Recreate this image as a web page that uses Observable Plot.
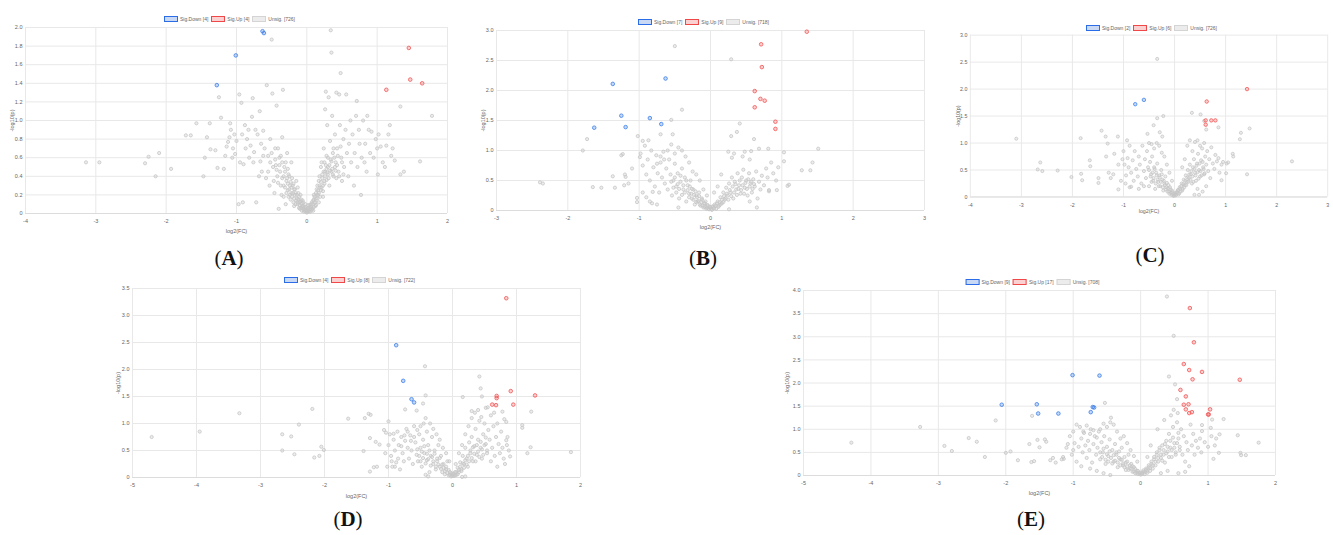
<!DOCTYPE html>
<html><head><meta charset="utf-8">
<script src="https://cdn.jsdelivr.net/npm/d3@7"></script>
<script src="https://cdn.jsdelivr.net/npm/@observablehq/plot@0.6"></script>
<style>
body{margin:0;background:#fff;}
#root{position:relative;width:1333px;height:535px;overflow:hidden;font-family:"Liberation Sans Narrow","Liberation Sans",Arial,sans-serif;}
.panel{position:absolute;}
.legend{position:absolute;transform:translate(-50%,-50%);display:flex;align-items:center;font-size:5px;color:#666;white-space:nowrap;line-height:6px;}
.sw{display:inline-block;box-sizing:border-box;width:14px;height:6px;border:1.3px solid;margin:0 2px 0 3px;}
.tag{position:absolute;transform:translateX(-50%);font-family:"Liberation Serif","DejaVu Serif",serif;font-size:21px;line-height:21px;color:#111;white-space:nowrap;}
.tag b{font-weight:bold}
</style></head><body><div id="root"></div>
<script>
// ---------- DATA ----------
const legendLabels = ["Sig.Down", "Sig.Up", "Unsig."];
const countsA = [4, 4, 726], countsB = [7, 9, 718], countsC = [2, 6, 726], countsD = [4, 8, 722], countsE = [9, 17, 708];

const xTicksA = [-4,-3,-2,-1,0,1,2];
const yTicksA = [0,0.2,0.4,0.6,0.8,1.0,1.2,1.4,1.6,1.8,2.0];
const xTicksB = [-3,-2,-1,0,1,2,3];
const yTicksB = [0,0.5,1.0,1.5,2.0,2.5,3.0];
const xTicksC = [-4,-3,-2,-1,0,1,2,3];
const yTicksC = [0,0.5,1.0,1.5,2.0,2.5,3.0];
const xTicksD = [-5,-4,-3,-2,-1,0,1,2];
const yTicksD = [0,0.5,1.0,1.5,2.0,2.5,3.0,3.5];
const xTicksE = [-5,-4,-3,-2,-1,0,1,2];
const yTicksE = [0,0.5,1.0,1.5,2.0,2.5,3.0,3.5,4.0];

const downA = [[-0.63,1.96],[-0.61,1.94],[-1.01,1.70],[-1.28,1.38]];
const upA = [[1.45,1.78],[1.47,1.44],[1.64,1.40],[1.13,1.33]];
const grayA = [[-3.14,0.55],[-2.95,0.55],[-2.30,0.54],[-2.25,0.61],[-2.10,0.65],[-2.15,0.40],[-1.93,0.48],[-1.72,0.84],[-1.65,0.84],[-1.57,0.97],[-1.47,0.40],[-1.45,0.60],[-1.42,0.82],[-1.38,0.97],[-1.37,0.69],[-1.30,0.68],[-1.27,0.49],[-1.25,1.25],[-1.22,1.03],[-1.18,0.48],[-1.16,0.62],[-1.12,0.77],[-1.09,0.97],[-1.08,0.90],[-1.05,0.70],[-1.02,0.64],[-1.00,0.78],[-0.97,0.10],[-0.96,1.28],[-0.93,1.19],[-0.91,0.12],[-0.90,0.53],[-0.88,0.95],[-0.85,0.80],[-0.83,0.90],[-0.80,0.73],[-0.78,1.04],[-0.77,1.24],[-0.75,0.66],[-0.72,0.12],[-0.70,0.85],[-0.67,1.10],[-0.66,0.56],[-0.64,0.45],[-0.62,0.89],[-0.60,0.70],[-0.58,0.38],[-0.57,1.38],[-0.55,0.62],[-0.53,0.30],[-0.52,0.80],[-0.50,1.87],[-0.49,1.29],[-0.48,0.50],[-0.46,0.22],[-0.45,0.70],[-0.43,1.16],[-0.42,0.40],[-0.40,0.05],[-0.39,0.60],[-0.37,0.30],[-0.35,0.82],[-0.34,1.33],[-0.33,0.18],[-0.32,0.50],[-0.30,0.10],[-0.28,0.65],[-0.27,0.25],[-0.25,0.40],[-0.23,0.15],[-0.22,0.55],[-0.20,0.30],[-0.18,0.08],[-0.17,0.20],[-0.15,0.35],[-0.13,0.12],[-0.12,0.22],[-0.10,0.05],[-0.08,0.15],[-0.07,0.03],[-0.05,0.08],[-0.04,0.02],[-0.02,0.04],[0.00,0.01],[0.02,0.03],[0.03,0.06],[0.05,0.02],[0.06,0.10],[0.08,0.05],[0.10,0.15],[0.12,0.08],[0.13,0.22],[0.15,0.30],[0.17,0.12],[0.18,0.40],[0.20,0.25],[0.21,0.55],[0.23,0.18],[0.24,0.70],[0.25,0.35],[0.26,1.12],[0.27,1.31],[0.28,0.48],[0.29,0.95],[0.30,0.60],[0.31,1.25],[0.32,0.30],[0.33,0.78],[0.34,1.97],[0.35,1.73],[0.35,0.45],[0.36,1.05],[0.37,0.65],[0.38,0.40],[0.40,0.85],[0.41,0.55],[0.42,1.30],[0.43,0.70],[0.45,0.45],[0.46,1.28],[0.47,0.95],[0.48,1.51],[0.49,0.60],[0.50,0.35],[0.52,0.80],[0.53,0.50],[0.55,0.90],[0.56,1.28],[0.57,0.65],[0.59,0.40],[0.60,0.75],[0.62,1.00],[0.63,0.55],[0.65,0.85],[0.67,0.30],[0.68,0.65],[0.70,1.05],[0.71,1.21],[0.72,0.50],[0.74,0.90],[0.75,0.75],[0.77,0.20],[0.78,0.60],[0.80,1.00],[0.82,0.55],[0.83,0.75],[0.85,0.45],[0.86,1.05],[0.88,0.90],[0.90,0.65],[0.92,0.88],[0.95,0.60],[0.98,0.80],[1.00,0.70],[1.01,0.42],[1.02,0.85],[1.05,0.72],[1.08,0.55],[1.11,0.50],[1.13,0.73],[1.16,0.85],[1.18,0.95],[1.20,0.62],[1.22,0.70],[1.25,0.57],[1.33,0.42],[1.33,1.15],[1.38,0.45],[1.61,0.56],[1.78,1.05],
[-0.35,0.55],[-0.33,0.40],[-0.31,0.28],[-0.29,0.35],[-0.27,0.48],[-0.26,0.18],[-0.24,0.30],[-0.22,0.22],[-0.21,0.38],[-0.19,0.12],[-0.18,0.26],[-0.16,0.10],[-0.14,0.16],[-0.13,0.28],[-0.11,0.06],[-0.10,0.12],[-0.09,0.20],[-0.07,0.08],[-0.06,0.14],[-0.05,0.04],[-0.03,0.06],[-0.02,0.10],[-0.01,0.02],[0.01,0.05],[0.02,0.09],[0.04,0.04],[0.05,0.07],[0.07,0.12],[0.09,0.03],[0.10,0.20],[0.11,0.12],[0.13,0.16],[0.14,0.26],[0.16,0.20],[0.17,0.35],[0.19,0.28],[0.20,0.50],[0.22,0.42],[0.23,0.30],[0.25,0.55],[0.26,0.45],[0.28,0.62],[0.30,0.42],[0.32,0.52],[0.34,0.58],[0.36,0.48],[0.38,0.70],[0.40,0.50],[0.42,0.38],[0.44,0.62],[0.46,0.40],[0.48,0.72],[0.50,0.55],[0.52,0.42],[-0.55,0.45],[-0.52,0.55],[-0.50,0.65],[-0.47,0.35],[-0.44,0.52],[-0.41,0.70],[-0.38,0.45],[-0.36,0.20],[-0.62,0.62],[-0.65,0.75],[-0.68,0.40],[-0.73,0.90],[-0.76,0.55],[-0.82,0.60],[-0.87,0.70],[-0.92,0.85],[-0.95,0.55],[-1.03,0.85],[-1.06,0.60],[-1.10,0.82],[-1.14,0.72],
[-0.45,0.58],[-0.43,0.47],[-0.41,0.33],[-0.39,0.52],[-0.37,0.62],[-0.35,0.38],[-0.33,0.30],[-0.31,0.45],[-0.30,0.55],[-0.29,0.22],[-0.28,0.38],[-0.27,0.32],[-0.26,0.42],[-0.25,0.26],[-0.24,0.20],[-0.23,0.34],[-0.22,0.28],[-0.21,0.18],[-0.20,0.22],[-0.19,0.32],[-0.18,0.16],[-0.17,0.26],[-0.16,0.22],[-0.15,0.14],[-0.14,0.20],[-0.13,0.10],[-0.12,0.15],[-0.11,0.18],[-0.10,0.09],[-0.09,0.13],[-0.08,0.06],[-0.07,0.11],[-0.06,0.07],[-0.05,0.12],[-0.04,0.05],[-0.03,0.03],[-0.02,0.07],[-0.01,0.04],[0.00,0.03],[0.01,0.02],[0.02,0.06],[0.03,0.02],[0.04,0.09],[0.05,0.05],[0.06,0.07],[0.07,0.04],[0.08,0.10],[0.09,0.14],[0.10,0.07],[0.11,0.18],[0.12,0.12],[0.13,0.09],[0.14,0.20],[0.15,0.16],[0.16,0.25],[0.17,0.22],[0.18,0.30],[0.19,0.18],[0.20,0.34],[0.21,0.28],[0.22,0.38],[0.23,0.24],[0.24,0.45],[0.25,0.32],[0.26,0.40],[0.27,0.52],[0.28,0.36],[0.29,0.44],[0.30,0.50],[0.31,0.38],[0.33,0.46],[0.35,0.56],[0.37,0.42],[0.39,0.60],[0.41,0.46],[0.43,0.52]];

const downB = [[-1.37,2.11],[-0.63,2.20],[-1.25,1.58],[-0.85,1.54],[-1.19,1.39],[-1.63,1.38],[-0.69,1.44]];
const upB = [[1.35,2.98],[0.71,2.77],[0.72,2.39],[0.62,1.99],[0.70,1.86],[0.76,1.83],[0.62,1.72],[0.91,1.48],[0.91,1.36]];
const grayB = [[-0.50,2.74],[0.29,2.52],[-0.40,1.68],[-0.55,1.51],[-0.53,1.27],[-0.70,1.27],[-1.02,1.24],[-0.95,1.16],[-0.87,1.17],[-1.79,1.00],[-1.73,1.19],[-1.37,0.57],[-2.39,0.47],[-2.35,0.45],[-1.65,0.39],[-1.53,0.38],[-1.34,0.38],[-1.23,0.94],[-1.19,0.56],[-1.21,0.42],[-0.99,0.89],[-1.03,0.21],[-1.03,0.14],[-0.81,0.31],[-0.82,0.12],[0.41,1.45],[0.37,1.31],[0.29,1.24],[0.61,1.19],[0.68,1.03],[0.81,1.03],[1.03,0.97],[1.03,0.82],[1.51,1.03],[1.43,0.80],[1.28,0.67],[1.40,0.67],[1.10,0.43],[1.08,0.41],[0.93,0.34],[0.82,0.34],[0.82,0.32],
[-0.98,0.95],[-0.95,0.75],[-0.92,1.08],[-0.90,0.60],[-0.88,0.85],[-0.85,0.50],[-0.83,1.00],[-0.80,0.72],[-0.78,0.40],[-0.76,0.92],[-0.74,0.62],[-0.72,0.30],[-0.70,0.80],[-0.68,0.55],[-0.66,0.98],[-0.64,0.45],[-0.62,0.70],[-0.60,0.35],[-0.58,0.85],[-0.56,0.60],[-0.54,0.25],[-0.52,0.50],[-0.50,0.78],[-0.48,0.40],[-0.46,0.62],[-0.44,0.20],[-0.42,0.48],[-0.40,0.70],[-0.38,0.35],[-0.36,0.55],[-0.34,0.15],[-0.32,0.42],[-0.30,0.28],[-0.28,0.50],[-0.26,0.20],[-0.24,0.35],[-0.22,0.10],[-0.20,0.25],[-0.18,0.15],[-0.16,0.30],[-0.14,0.08],[-0.12,0.18],[-0.10,0.05],[-0.08,0.12],[-0.06,0.03],[-0.04,0.08],[-0.02,0.02],[0.00,0.05],[0.02,0.01],[0.04,0.06],[0.06,0.10],[0.08,0.03],[0.10,0.15],[0.12,0.08],[0.14,0.22],[0.16,0.12],[0.18,0.30],[0.20,0.18],[0.22,0.38],[0.24,0.25],[0.26,0.45],[0.28,0.30],[0.30,0.55],[0.32,0.20],[0.34,0.48],[0.36,0.35],[0.38,0.62],[0.40,0.42],[0.42,0.28],[0.44,0.55],[0.46,0.68],[0.48,0.38],[0.50,0.50],[0.52,0.25],[0.54,0.62],[0.56,0.45],[0.58,0.30],[0.60,0.52],[0.62,0.40],[0.64,0.65],[0.66,0.20],[0.68,0.48],[0.70,0.35],[0.72,0.58],[0.75,0.42],[0.78,0.70],[0.80,0.55],[0.85,0.80],[0.88,0.62],[0.92,0.50],[0.95,0.72],[0.30,0.88],[0.33,0.95],[0.45,0.90],[0.48,0.98],[0.55,0.85],[0.57,0.99],[0.25,0.98],[0.15,0.60],[0.10,0.40],[0.05,0.30],[-0.05,0.25],[-0.10,0.35],[-0.15,0.50],[-0.20,0.60],[-0.25,0.65],[-0.30,0.80],[-0.35,0.90],[-0.40,1.00],[-0.45,1.05],[-0.50,0.95],[-0.55,1.10],[-0.60,1.00],[-0.65,0.85],[-0.70,0.90],[-0.75,0.78],[-1.10,0.70],[-1.15,0.45],[-1.20,0.60],[-1.25,0.92],[-0.95,0.30],[-0.90,0.22],[-0.85,0.15],[-0.75,0.10],[-0.45,0.05],[0.65,0.05],[0.55,0.15],[0.26,0.02],
[-0.55,0.48],[-0.52,0.38],[-0.50,0.55],[-0.48,0.30],[-0.46,0.44],[-0.44,0.36],[-0.42,0.58],[-0.40,0.26],[-0.38,0.42],[-0.36,0.30],[-0.34,0.50],[-0.32,0.34],[-0.30,0.22],[-0.29,0.40],[-0.27,0.28],[-0.26,0.36],[-0.24,0.18],[-0.23,0.26],[-0.21,0.32],[-0.20,0.14],[-0.19,0.22],[-0.17,0.16],[-0.16,0.24],[-0.15,0.10],[-0.13,0.14],[-0.12,0.20],[-0.11,0.08],[-0.09,0.12],[-0.08,0.06],[-0.07,0.15],[-0.05,0.05],[-0.04,0.09],[-0.03,0.03],[-0.01,0.06],[0.01,0.03],[0.03,0.07],[0.05,0.04],[0.07,0.08],[0.09,0.12],[0.11,0.06],[0.13,0.14],[0.14,0.10],[0.16,0.18],[0.18,0.14],[0.19,0.24],[0.21,0.20],[0.23,0.28],[0.25,0.18],[0.27,0.34],[0.29,0.24],[0.31,0.40],[0.33,0.30],[0.35,0.44],[0.37,0.26],[0.39,0.36],[0.41,0.50],[0.43,0.34],[0.45,0.42],[0.47,0.28],[0.49,0.46],[0.51,0.36],[0.53,0.52],[0.55,0.40],[0.57,0.48],[0.59,0.36],[0.61,0.44]];

const downC = [[-0.77,1.72],[-0.60,1.80]];
const upC = [[1.42,2.00],[0.63,1.77],[0.61,1.42],[0.61,1.34],[0.72,1.42],[0.80,1.42]];
const grayC = [[-0.34,2.56],[-3.10,1.08],[-2.63,0.64],[-2.68,0.51],[-2.59,0.48],[-2.29,0.49],[-2.02,0.37],[-1.84,1.09],[-1.83,0.43],[-1.81,0.31],[-1.66,0.68],[-1.65,0.57],[-1.49,0.35],[-1.49,0.26],[-1.43,1.23],[-1.35,1.12],[-1.31,0.99],[-1.34,0.75],[-1.29,0.45],[-1.11,1.12],[-1.10,0.14],[-0.93,1.05],[-0.85,0.19],[-0.53,1.17],[-0.41,1.33],[-0.34,1.46],[-0.22,1.50],[-0.29,1.20],[-0.24,1.12],[0.34,1.56],[0.51,1.53],[0.58,1.41],[0.62,1.25],[0.86,1.29],[1.30,1.19],[1.28,1.07],[1.47,1.27],[1.14,0.80],[1.02,0.62],[1.01,0.44],[1.42,0.42],[2.30,0.66],[0.92,0.31],[0.39,0.04],[0.48,0.04],
[-1.00,0.85],[-0.98,0.60],[-0.95,0.40],[-0.92,0.72],[-0.90,0.55],[-0.88,0.95],[-0.85,0.45],[-0.82,0.68],[-0.80,0.30],[-0.78,0.85],[-0.75,0.52],[-0.72,0.38],[-0.70,0.75],[-0.68,0.60],[-0.65,0.25],[-0.63,0.95],[-0.60,0.48],[-0.58,0.70],[-0.56,0.35],[-0.54,0.85],[-0.52,0.55],[-0.50,0.20],[-0.48,0.65],[-0.46,0.42],[-0.44,0.75],[-0.42,0.30],[-0.40,0.55],[-0.38,0.15],[-0.36,0.45],[-0.34,0.62],[-0.32,0.28],[-0.30,0.40],[-0.28,0.20],[-0.26,0.50],[-0.24,0.32],[-0.22,0.12],[-0.20,0.25],[-0.18,0.38],[-0.16,0.18],[-0.14,0.10],[-0.12,0.22],[-0.10,0.06],[-0.08,0.14],[-0.06,0.04],[-0.04,0.09],[-0.02,0.02],[0.00,0.05],[0.02,0.03],[0.04,0.08],[0.06,0.12],[0.08,0.05],[0.10,0.18],[0.12,0.10],[0.14,0.25],[0.16,0.15],[0.18,0.32],[0.20,0.22],[0.22,0.40],[0.24,0.28],[0.26,0.50],[0.28,0.35],[0.30,0.60],[0.32,0.42],[0.34,0.25],[0.36,0.55],[0.38,0.70],[0.40,0.45],[0.42,0.30],[0.44,0.62],[0.46,0.80],[0.48,0.50],[0.50,0.38],[0.52,0.68],[0.54,0.90],[0.56,0.55],[0.58,0.42],[0.60,0.75],[0.62,0.60],[0.64,0.85],[0.66,0.48],[0.68,0.70],[0.70,0.35],[0.72,0.92],[0.75,0.62],[0.78,0.52],[0.80,0.78],[0.83,0.66],[0.86,0.72],[0.88,0.45],[0.92,0.60],[0.95,0.65],[1.05,0.64],[1.15,0.75],[0.25,0.95],[0.30,1.05],[0.35,0.85],[0.40,1.02],[0.45,1.05],[0.50,0.95],[0.58,1.00],[0.20,0.70],[0.15,0.55],[-0.05,0.30],[-0.10,0.45],[-0.15,0.60],[-0.20,0.75],[-0.25,0.82],[-0.30,0.95],[-0.35,1.00],[-0.40,0.90],[-0.45,0.98],[-0.50,1.00],[-0.60,0.20],[-0.70,0.15],[-1.05,0.30],[-1.10,0.60],[-1.20,0.42],[-1.25,0.35],[-1.18,0.80],[-1.02,0.70],[-0.96,0.25],[-0.88,0.18],[0.62,0.20],[0.55,0.10],[0.45,0.15],
[-0.50,0.50],[-0.47,0.38],[-0.45,0.28],[-0.43,0.45],[-0.41,0.35],[-0.39,0.52],[-0.37,0.25],[-0.35,0.40],[-0.33,0.32],[-0.31,0.20],[-0.29,0.36],[-0.27,0.28],[-0.25,0.42],[-0.23,0.18],[-0.21,0.30],[-0.19,0.22],[-0.17,0.14],[-0.15,0.26],[-0.13,0.16],[-0.11,0.10],[-0.09,0.18],[-0.07,0.08],[-0.05,0.12],[-0.03,0.05],[-0.01,0.03],[0.01,0.07],[0.03,0.04],[0.05,0.09],[0.07,0.13],[0.09,0.07],[0.11,0.15],[0.13,0.20],[0.15,0.12],[0.17,0.24],[0.19,0.18],[0.21,0.30],[0.23,0.22],[0.25,0.36],[0.27,0.28],[0.29,0.42],[0.31,0.32],[0.33,0.48],[0.35,0.38],[0.37,0.28],[0.39,0.52],[0.41,0.40],[0.43,0.58],[0.45,0.46],[0.47,0.34],[0.49,0.62],[0.51,0.48],[0.53,0.40],[0.55,0.65],[0.57,0.52],[0.59,0.44]];

const downD = [[-0.88,2.45],[-0.77,1.79],[-0.64,1.45],[-0.60,1.39]];
const upD = [[0.84,3.32],[0.91,1.60],[1.29,1.52],[0.69,1.51],[0.69,1.47],[0.62,1.35],[0.68,1.34],[0.95,1.35]];
const grayD = [[-4.70,0.75],[-3.95,0.85],[-3.33,1.19],[-2.66,0.80],[-2.66,0.50],[-2.52,0.76],[-2.47,0.43],[-2.40,0.98],[-2.19,1.27],[-2.16,0.37],[-2.08,0.40],[-2.05,0.57],[-2.01,0.51],[-1.63,1.09],[-1.39,0.49],[-1.37,1.10],[-1.31,1.18],[-1.28,1.16],[-1.29,0.11],[-1.23,0.19],[-1.18,0.20],[-1.29,0.73],[-1.20,0.66],[-1.14,0.61],[-1.07,0.88],[-1.04,0.83],[-1.00,1.04],[-0.92,0.81],[-0.74,1.26],[-0.43,2.06],[-0.56,1.24],[-0.42,1.52],[-0.46,1.37],[0.42,1.87],[0.44,1.65],[0.46,1.50],[0.52,1.29],[0.16,1.49],[0.30,1.23],[0.78,1.22],[0.81,1.08],[0.84,1.03],[1.09,0.97],[1.09,0.92],[1.23,1.22],[1.22,0.56],[1.17,0.45],[1.85,0.47],[0.84,0.69],[0.86,0.75],[0.90,0.39],
[-1.00,0.60],[-0.98,0.80],[-0.96,0.40],[-0.94,0.20],[-0.92,0.70],[-0.90,0.50],[-0.88,0.28],[-0.86,0.85],[-0.84,0.60],[-0.82,0.15],[-0.80,0.75],[-0.78,0.45],[-0.76,0.30],[-0.74,0.68],[-0.72,0.90],[-0.70,0.55],[-0.68,0.35],[-0.66,0.78],[-0.64,0.50],[-0.62,0.25],[-0.60,0.95],[-0.58,0.65],[-0.56,0.42],[-0.54,0.30],[-0.52,0.80],[-0.50,0.55],[-0.48,0.20],[-0.46,0.70],[-0.44,0.45],[-0.42,1.10],[-0.40,0.32],[-0.38,0.60],[-0.36,0.10],[-0.34,0.40],[-0.32,0.75],[-0.30,0.25],[-0.28,0.50],[-0.26,0.15],[-0.24,0.35],[-0.22,0.60],[-0.20,0.20],[-0.18,0.40],[-0.16,0.10],[-0.14,0.25],[-0.12,0.06],[-0.10,0.15],[-0.08,0.30],[-0.06,0.04],[-0.04,0.10],[-0.02,0.02],[0.00,0.06],[0.02,0.03],[0.04,0.10],[0.06,0.05],[0.08,0.18],[0.10,0.10],[0.12,0.28],[0.14,0.15],[0.16,0.40],[0.18,0.25],[0.20,0.55],[0.22,0.35],[0.24,0.20],[0.26,0.65],[0.28,0.45],[0.30,0.75],[0.32,0.30],[0.34,0.58],[0.36,0.90],[0.38,0.42],[0.40,0.70],[0.42,1.05],[0.44,0.55],[0.46,0.35],[0.48,0.80],[0.50,1.00],[0.52,0.62],[0.54,0.45],[0.56,0.88],[0.58,0.70],[0.60,0.30],[0.62,0.55],[0.64,0.95],[0.66,0.40],[0.68,0.75],[0.70,0.20],[0.72,0.62],[0.74,0.45],[0.76,0.85],[0.78,0.55],[0.80,0.35],[0.82,0.25],[0.85,0.60],[0.88,0.50],[0.30,1.10],[0.25,0.95],[0.35,1.20],[0.40,1.25],[0.45,1.12],[0.55,1.30],[0.60,1.15],[0.65,1.20],[0.70,1.00],[-0.30,0.90],[-0.35,1.00],[-0.40,0.85],[-0.45,1.00],[-0.50,0.95],[-0.55,0.88],[-0.60,0.75],[-0.65,0.68],[-0.70,0.85],[-0.75,0.78],[-0.80,0.58],[-0.85,0.35],[-0.90,0.20],[-0.95,0.30],[-1.05,0.45],[-1.02,0.20],[-0.25,0.80],[-0.20,0.70],[-0.15,0.55],[-0.10,0.45],[-0.05,0.30],[0.05,0.25],[0.10,0.45],[0.15,0.60],[0.20,0.80],[0.20,0.02],[0.15,0.01],[-0.38,0.02],[-0.42,0.05],
[-0.55,0.52],[-0.52,0.40],[-0.50,0.30],[-0.48,0.48],[-0.46,0.36],[-0.44,0.58],[-0.42,0.26],[-0.40,0.44],[-0.38,0.34],[-0.36,0.50],[-0.34,0.22],[-0.32,0.38],[-0.30,0.30],[-0.28,0.44],[-0.26,0.20],[-0.24,0.30],[-0.22,0.24],[-0.20,0.36],[-0.18,0.16],[-0.16,0.24],[-0.14,0.18],[-0.12,0.12],[-0.10,0.20],[-0.08,0.08],[-0.06,0.14],[-0.04,0.05],[-0.02,0.08],[0.00,0.03],[0.02,0.07],[0.04,0.04],[0.06,0.10],[0.08,0.06],[0.10,0.14],[0.12,0.20],[0.14,0.12],[0.16,0.26],[0.18,0.18],[0.20,0.32],[0.22,0.24],[0.24,0.40],[0.26,0.30],[0.28,0.50],[0.30,0.36],[0.32,0.56],[0.34,0.44],[0.36,0.30],[0.38,0.60],[0.40,0.48],[0.42,0.38],[0.44,0.66],[0.46,0.52],[0.48,0.42],[0.50,0.60],[0.52,0.74],[0.54,0.50]];

const downE = [[-1.01,2.17],[-0.61,2.16],[-2.06,1.53],[-1.54,1.54],[-1.52,1.34],[-1.22,1.34],[-0.71,1.48],[-0.69,1.47],[-0.74,1.37]];
const upE = [[0.73,3.62],[0.79,2.88],[0.64,2.41],[0.72,2.28],[0.91,2.24],[0.77,2.08],[1.47,2.07],[0.59,1.85],[0.67,1.71],[0.64,1.53],[0.71,1.54],[0.67,1.43],[0.72,1.35],[0.76,1.37],[1.00,1.32],[1.01,1.32],[1.03,1.43]];
const grayE = [[0.39,3.87],[0.49,3.02],[0.42,2.14],[0.51,1.97],[-0.53,1.57],[-4.29,0.71],[-3.27,1.05],[-2.91,0.64],[-2.80,0.53],[-2.55,0.81],[-2.43,0.73],[-2.31,0.40],[-2.15,1.19],[-2.00,0.49],[-1.93,0.52],[-1.82,0.33],[-1.65,0.68],[-1.62,0.29],[-1.58,0.31],[-1.61,1.29],[-1.53,0.77],[-1.50,0.61],[-1.42,0.78],[-1.40,0.73],[-1.34,0.33],[-1.30,0.38],[-1.26,0.28],[-1.17,0.35],[-1.14,0.36],[0.49,1.42],[0.54,1.65],[1.23,1.22],[1.44,0.87],[1.48,0.49],[1.49,0.44],[1.56,0.44],[1.75,0.71],[1.08,0.36],[1.16,0.49],[1.17,0.89],[1.10,0.65],[0.91,1.09],[0.91,0.96],[1.04,1.03],[1.06,1.21],[0.56,0.05],[0.66,0.08],[-0.45,0.01],
[-1.10,0.60],[-1.05,0.85],[-1.02,0.45],[-1.00,0.95],[-0.98,0.70],[-0.95,0.30],[-0.92,0.62],[-0.90,1.05],[-0.88,0.80],[-0.86,0.50],[-0.84,0.92],[-0.82,0.65],[-0.80,0.38],[-0.78,0.75],[-0.76,0.55],[-0.74,1.00],[-0.72,0.28],[-0.70,0.68],[-0.68,0.85],[-0.66,0.45],[-0.64,0.60],[-0.62,0.95],[-0.60,0.35],[-0.58,0.72],[-0.56,0.50],[-0.54,0.85],[-0.52,0.25],[-0.50,0.62],[-0.48,0.42],[-0.46,0.78],[-0.44,1.25],[-0.42,0.55],[-0.40,0.30],[-0.38,0.68],[-0.36,0.45],[-0.34,0.18],[-0.32,0.52],[-0.30,0.35],[-0.28,0.60],[-0.26,0.22],[-0.24,0.40],[-0.22,0.12],[-0.20,0.30],[-0.18,0.45],[-0.16,0.15],[-0.14,0.25],[-0.12,0.08],[-0.10,0.18],[-0.08,0.05],[-0.06,0.10],[-0.04,0.03],[-0.02,0.06],[0.00,0.02],[0.02,0.05],[0.04,0.08],[0.06,0.03],[0.08,0.12],[0.10,0.06],[0.12,0.18],[0.14,0.10],[0.16,0.25],[0.18,0.15],[0.20,0.35],[0.22,0.22],[0.24,0.45],[0.26,0.30],[0.28,0.55],[0.30,0.38],[0.32,0.65],[0.34,0.45],[0.36,0.28],[0.38,0.75],[0.40,0.52],[0.42,0.90],[0.44,0.60],[0.46,0.40],[0.48,1.05],[0.50,0.70],[0.52,0.50],[0.54,1.15],[0.56,0.80],[0.58,0.62],[0.60,1.00],[0.62,0.45],[0.64,0.85],[0.66,0.30],[0.68,0.72],[0.70,0.55],[0.72,0.20],[0.74,1.10],[0.76,0.65],[0.78,0.90],[0.80,0.45],[0.82,0.75],[0.85,0.60],[0.88,0.80],[0.90,0.50],[0.95,0.72],[1.00,0.62],[1.05,0.85],[1.12,0.80],[0.35,1.20],[0.45,1.30],[0.55,1.35],[0.40,0.10],[0.30,0.05],[0.25,1.00],[0.15,0.65],[0.10,0.40],[-0.05,0.30],[-0.10,0.42],[-0.15,0.55],[-0.20,0.70],[-0.25,0.85],[-0.30,0.80],[-0.35,0.95],[-0.40,1.10],[-0.45,1.15],[-0.50,1.05],[-0.55,1.12],[-0.60,1.00],[-0.65,0.82],[-0.70,0.98],[-0.75,0.90],[-0.80,1.08],[-0.85,0.95],[-0.95,1.10],[-1.00,0.55],[-1.08,0.68],[-1.15,0.40],[-0.88,0.20],[-0.75,0.15],[-0.65,0.10],[-0.55,0.05],
[-0.60,0.50],[-0.57,0.40],[-0.55,0.58],[-0.52,0.34],[-0.50,0.46],[-0.48,0.30],[-0.46,0.52],[-0.44,0.38],[-0.42,0.26],[-0.40,0.44],[-0.38,0.32],[-0.36,0.50],[-0.34,0.28],[-0.32,0.38],[-0.30,0.22],[-0.28,0.34],[-0.26,0.26],[-0.24,0.18],[-0.22,0.28],[-0.20,0.20],[-0.18,0.12],[-0.16,0.22],[-0.14,0.15],[-0.12,0.20],[-0.10,0.09],[-0.08,0.14],[-0.06,0.06],[-0.04,0.10],[-0.02,0.04],[0.00,0.06],[0.02,0.03],[0.04,0.11],[0.06,0.07],[0.08,0.15],[0.10,0.10],[0.12,0.22],[0.14,0.16],[0.16,0.30],[0.18,0.22],[0.20,0.40],[0.22,0.30],[0.24,0.50],[0.26,0.38],[0.28,0.60],[0.30,0.45],[0.32,0.32],[0.34,0.55],[0.36,0.68],[0.38,0.48],[0.40,0.62],[0.42,0.40],[0.44,0.75],[0.46,0.55],[0.48,0.82],[0.50,0.60],[0.52,0.45],[0.54,0.70],[0.56,0.92],[0.58,0.55]];

// ---------- LAYOUT ----------
const panels = [
  {tag:"A", down:downA, up:upA, gray:grayA, counts:countsA, xTicks:xTicksA, yTicks:yTicksA,
   left:0, top:0, mL:25, mT:27, fw:422, fh:186, xlDy:19, ylDx:-13, legX:228, legY:19, tagX:229, tagY:248},
  {tag:"B", down:downB, up:upB, gray:grayB, counts:countsB, xTicks:xTicksB, yTicks:yTicksB,
   left:460, top:0, mL:36, mT:30, fw:428, fh:180, xlDy:18, ylDx:-13, legX:702, legY:22, tagX:703, tagY:248},
  {tag:"C", down:downC, up:upC, gray:grayC, counts:countsC, xTicks:xTicksC, yTicks:yTicksC,
   left:940, top:0, mL:31, mT:36, fw:371, fh:168, xlDy:17, ylDx:-12, legX:1150, legY:28, tagX:1150, tagY:245},
  {tag:"D", down:downD, up:upD, gray:grayD, counts:countsD, xTicks:xTicksD, yTicks:yTicksD,
   left:100, top:260, mL:32, mT:28, fw:448, fh:189, xlDy:20, ylDx:-14, legX:348, legY:280, tagX:348, tagY:509},
  {tag:"E", down:downE, up:upE, gray:grayE, counts:countsE, xTicks:xTicksE, yTicks:yTicksE,
   left:770, top:262, mL:33, mT:28, fw:472, fh:185, xlDy:19, ylDx:-16, legX:1031, legY:282, tagX:1031, tagY:509}
];

const colors = {
  down: {stroke:"#3d7fe8", fill:"rgba(61,127,232,0.30)"},
  up:   {stroke:"#f25555", fill:"rgba(242,85,85,0.28)"},
  gray: {stroke:"#c6c6c6", fill:"rgba(200,200,200,0.35)"}
};
const fmtY = d => d === 0 ? "0" : d.toFixed(1);
const fmtX = d => String(d);
const root = document.getElementById("root");

for (const p of panels) {
  const xDomain = [p.xTicks[0], p.xTicks[p.xTicks.length - 1]];
  const yDomain = [p.yTicks[0], p.yTicks[p.yTicks.length - 1]];
  const dots = (data, c, r) => Plot.dot(data, {x: d => d[0], y: d => d[1], r, stroke: c.stroke, fill: c.fill, strokeWidth: 0.8});
  const svg = Plot.plot({
    width: p.mL + p.fw + 6,
    height: p.mT + p.fh + 32,
    marginLeft: p.mL, marginTop: p.mT, marginRight: 6, marginBottom: 32,
    style: {fontFamily: '"Liberation Sans Narrow","Liberation Sans",Arial,sans-serif', fontSize: "5.5px", color: "#666", background: "transparent", overflow: "visible"},
    x: {domain: xDomain},
    y: {domain: yDomain},
    marks: [
      Plot.gridX(p.xTicks, {stroke: "#e8e8e8", strokeOpacity: 1}),
      Plot.gridY(p.yTicks, {stroke: "#e8e8e8", strokeOpacity: 1}),
      Plot.ruleY([yDomain[0]], {stroke: "#dcdcdc"}),
      Plot.axisX(p.xTicks, {tickSize: 0, tickPadding: 6, tickFormat: fmtX, label: null, fill: "#666"}),
      Plot.axisY(p.yTicks, {tickSize: 0, tickPadding: 3, tickFormat: fmtY, label: null, fill: "#666"}),
      dots(p.gray, colors.gray, 1.6),
      dots(p.down, colors.down, 1.8),
      dots(p.up, colors.up, 1.8),
      Plot.text(["log2(FC)"], {frameAnchor: "bottom", dy: p.xlDy, fontSize: 5.5, fill: "#666"}),
      Plot.text(["-log10(p)"], {frameAnchor: "left", dx: p.ylDx, rotate: -90, textAnchor: "middle", fontSize: 5.5, fill: "#666"})
    ]
  });
  const wrap = document.createElement("div");
  wrap.className = "panel";
  wrap.style.left = p.left + "px";
  wrap.style.top = p.top + "px";
  wrap.appendChild(svg);
  root.appendChild(wrap);

  const leg = document.createElement("div");
  leg.className = "legend";
  leg.style.left = p.legX + "px";
  leg.style.top = p.legY + "px";
  const keys = ["down", "up", "gray"];
  const legStroke = {down: "#2a6de6", up: "#f04848", gray: "#d4d4d4"};
  const legFill = {down: "#c9d9f5", up: "#fbd0d0", gray: "#ececec"};
  keys.forEach((k, i) => {
    const sw = document.createElement("span");
    sw.className = "sw";
    sw.style.borderColor = legStroke[k];
    sw.style.background = legFill[k];
    leg.appendChild(sw);
    const t = document.createElement("span");
    t.textContent = `${legendLabels[i]} [${p.counts[i]}]`;
    leg.appendChild(t);
  });
  root.appendChild(leg);

  const tag = document.createElement("div");
  tag.className = "tag";
  tag.style.left = p.tagX + "px";
  tag.style.top = p.tagY + "px";
  tag.innerHTML = `(<b>${p.tag}</b>)`;
  root.appendChild(tag);
}
</script></body></html>
